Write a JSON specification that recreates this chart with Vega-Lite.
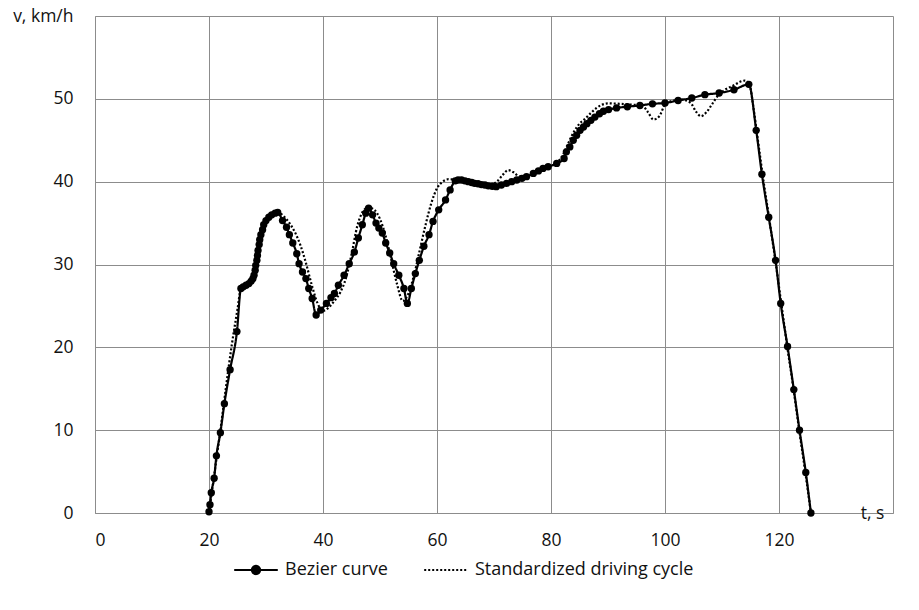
{
  "$schema": "https://vega.github.io/schema/vega-lite/v6.json",
  "width": 798,
  "height": 497,
  "autosize": {"type": "none"},
  "padding": {"left": 95, "top": 16, "right": 26, "bottom": 97},
  "background": "white",
  "config": {
    "font": "Open Sans",
    "view": {"stroke": null},
    "axis": {
      "grid": true,
      "gridColor": "#8c8c8c",
      "gridWidth": 1,
      "domainColor": "#8c8c8c",
      "domainWidth": 1,
      "ticks": false,
      "labelFont": "Open Sans",
      "labelFontSize": 17.5,
      "labelColor": "#111111",
      "titleFont": "Open Sans",
      "titleFontSize": 17.5,
      "titleFontWeight": "normal",
      "titleColor": "#111111"
    }
  },
  "data": {
    "values": [
      {"s": "Bezier curve", "t": 20.0, "v": 0.15},
      {"s": "Bezier curve", "t": 20.17, "v": 1.0},
      {"s": "Bezier curve", "t": 20.4, "v": 2.45},
      {"s": "Bezier curve", "t": 20.9, "v": 4.2},
      {"s": "Bezier curve", "t": 21.3, "v": 6.9},
      {"s": "Bezier curve", "t": 22.0, "v": 9.7},
      {"s": "Bezier curve", "t": 22.7, "v": 13.2},
      {"s": "Bezier curve", "t": 23.7, "v": 17.3},
      {"s": "Bezier curve", "t": 24.9, "v": 21.9},
      {"s": "Bezier curve", "t": 25.6, "v": 27.1},
      {"s": "Bezier curve", "t": 26.0, "v": 27.3},
      {"s": "Bezier curve", "t": 26.5, "v": 27.5},
      {"s": "Bezier curve", "t": 27.0, "v": 27.7},
      {"s": "Bezier curve", "t": 27.4, "v": 28.0},
      {"s": "Bezier curve", "t": 27.7, "v": 28.3},
      {"s": "Bezier curve", "t": 27.9, "v": 28.7},
      {"s": "Bezier curve", "t": 28.1, "v": 29.3},
      {"s": "Bezier curve", "t": 28.2, "v": 29.9},
      {"s": "Bezier curve", "t": 28.4, "v": 30.5},
      {"s": "Bezier curve", "t": 28.5, "v": 31.1},
      {"s": "Bezier curve", "t": 28.6, "v": 31.7},
      {"s": "Bezier curve", "t": 28.8, "v": 32.4},
      {"s": "Bezier curve", "t": 28.9, "v": 33.0},
      {"s": "Bezier curve", "t": 29.1, "v": 33.6},
      {"s": "Bezier curve", "t": 29.4, "v": 34.2},
      {"s": "Bezier curve", "t": 29.6, "v": 34.8},
      {"s": "Bezier curve", "t": 30.0, "v": 35.3},
      {"s": "Bezier curve", "t": 30.5, "v": 35.7},
      {"s": "Bezier curve", "t": 31.0, "v": 36.0},
      {"s": "Bezier curve", "t": 31.6, "v": 36.2},
      {"s": "Bezier curve", "t": 32.05, "v": 36.3},
      {"s": "Bezier curve", "t": 32.9, "v": 35.3},
      {"s": "Bezier curve", "t": 33.6, "v": 34.5},
      {"s": "Bezier curve", "t": 34.1, "v": 33.6},
      {"s": "Bezier curve", "t": 34.7, "v": 32.6},
      {"s": "Bezier curve", "t": 35.4, "v": 31.3},
      {"s": "Bezier curve", "t": 35.8, "v": 30.1},
      {"s": "Bezier curve", "t": 36.4, "v": 29.1},
      {"s": "Bezier curve", "t": 37.0, "v": 28.3},
      {"s": "Bezier curve", "t": 37.5, "v": 27.1},
      {"s": "Bezier curve", "t": 38.1, "v": 25.9},
      {"s": "Bezier curve", "t": 38.8, "v": 23.9},
      {"s": "Bezier curve", "t": 39.6, "v": 24.5},
      {"s": "Bezier curve", "t": 40.6, "v": 25.3},
      {"s": "Bezier curve", "t": 41.4, "v": 26.0},
      {"s": "Bezier curve", "t": 42.0, "v": 26.5},
      {"s": "Bezier curve", "t": 42.7, "v": 27.5},
      {"s": "Bezier curve", "t": 43.7, "v": 28.7},
      {"s": "Bezier curve", "t": 44.6, "v": 30.1},
      {"s": "Bezier curve", "t": 45.5, "v": 31.5},
      {"s": "Bezier curve", "t": 46.2, "v": 33.2},
      {"s": "Bezier curve", "t": 46.9, "v": 34.8},
      {"s": "Bezier curve", "t": 47.5, "v": 36.2},
      {"s": "Bezier curve", "t": 48.0, "v": 36.8},
      {"s": "Bezier curve", "t": 48.7, "v": 36.0},
      {"s": "Bezier curve", "t": 49.3, "v": 35.0},
      {"s": "Bezier curve", "t": 49.8, "v": 34.4},
      {"s": "Bezier curve", "t": 50.4, "v": 33.8},
      {"s": "Bezier curve", "t": 51.0, "v": 32.6},
      {"s": "Bezier curve", "t": 51.7, "v": 31.4},
      {"s": "Bezier curve", "t": 52.4, "v": 30.1},
      {"s": "Bezier curve", "t": 53.3, "v": 28.7},
      {"s": "Bezier curve", "t": 54.2, "v": 27.1},
      {"s": "Bezier curve", "t": 54.8, "v": 25.3},
      {"s": "Bezier curve", "t": 55.5, "v": 27.1},
      {"s": "Bezier curve", "t": 56.2, "v": 28.9},
      {"s": "Bezier curve", "t": 56.9, "v": 30.5},
      {"s": "Bezier curve", "t": 57.7, "v": 32.2},
      {"s": "Bezier curve", "t": 58.6, "v": 33.6},
      {"s": "Bezier curve", "t": 59.3, "v": 35.2},
      {"s": "Bezier curve", "t": 60.3, "v": 36.6},
      {"s": "Bezier curve", "t": 61.5, "v": 37.8},
      {"s": "Bezier curve", "t": 62.3, "v": 39.0},
      {"s": "Bezier curve", "t": 63.2, "v": 40.1},
      {"s": "Bezier curve", "t": 63.7, "v": 40.2},
      {"s": "Bezier curve", "t": 64.3, "v": 40.2},
      {"s": "Bezier curve", "t": 64.9, "v": 40.1},
      {"s": "Bezier curve", "t": 65.5, "v": 40.0},
      {"s": "Bezier curve", "t": 66.1, "v": 39.9},
      {"s": "Bezier curve", "t": 66.6, "v": 39.8},
      {"s": "Bezier curve", "t": 67.2, "v": 39.75},
      {"s": "Bezier curve", "t": 67.8, "v": 39.65},
      {"s": "Bezier curve", "t": 68.4, "v": 39.6},
      {"s": "Bezier curve", "t": 69.0, "v": 39.5},
      {"s": "Bezier curve", "t": 69.7, "v": 39.45},
      {"s": "Bezier curve", "t": 70.4, "v": 39.4},
      {"s": "Bezier curve", "t": 71.3, "v": 39.6},
      {"s": "Bezier curve", "t": 72.2, "v": 39.8},
      {"s": "Bezier curve", "t": 73.1, "v": 40.0},
      {"s": "Bezier curve", "t": 74.0, "v": 40.2},
      {"s": "Bezier curve", "t": 74.9, "v": 40.4},
      {"s": "Bezier curve", "t": 75.7, "v": 40.6},
      {"s": "Bezier curve", "t": 76.9, "v": 41.0},
      {"s": "Bezier curve", "t": 77.8, "v": 41.3},
      {"s": "Bezier curve", "t": 78.6, "v": 41.6},
      {"s": "Bezier curve", "t": 79.5, "v": 41.8},
      {"s": "Bezier curve", "t": 81.0, "v": 42.2},
      {"s": "Bezier curve", "t": 82.3, "v": 42.8},
      {"s": "Bezier curve", "t": 82.7, "v": 43.6},
      {"s": "Bezier curve", "t": 83.3, "v": 44.2},
      {"s": "Bezier curve", "t": 83.9, "v": 45.0},
      {"s": "Bezier curve", "t": 84.5, "v": 45.6},
      {"s": "Bezier curve", "t": 85.1, "v": 46.2},
      {"s": "Bezier curve", "t": 85.7, "v": 46.6},
      {"s": "Bezier curve", "t": 86.3, "v": 47.0},
      {"s": "Bezier curve", "t": 87.0, "v": 47.4},
      {"s": "Bezier curve", "t": 87.7, "v": 47.8},
      {"s": "Bezier curve", "t": 88.5, "v": 48.2},
      {"s": "Bezier curve", "t": 89.2, "v": 48.5},
      {"s": "Bezier curve", "t": 90.1, "v": 48.7},
      {"s": "Bezier curve", "t": 91.5, "v": 48.9},
      {"s": "Bezier curve", "t": 93.4, "v": 49.05},
      {"s": "Bezier curve", "t": 95.6, "v": 49.2},
      {"s": "Bezier curve", "t": 97.8, "v": 49.4},
      {"s": "Bezier curve", "t": 100.0, "v": 49.5},
      {"s": "Bezier curve", "t": 102.3, "v": 49.8},
      {"s": "Bezier curve", "t": 104.7, "v": 50.1},
      {"s": "Bezier curve", "t": 107.0, "v": 50.5},
      {"s": "Bezier curve", "t": 109.5, "v": 50.7},
      {"s": "Bezier curve", "t": 112.1, "v": 51.1},
      {"s": "Bezier curve", "t": 114.7, "v": 51.75},
      {"s": "Bezier curve", "t": 116.0, "v": 46.2},
      {"s": "Bezier curve", "t": 117.0, "v": 40.9},
      {"s": "Bezier curve", "t": 118.2, "v": 35.7},
      {"s": "Bezier curve", "t": 119.4, "v": 30.5},
      {"s": "Bezier curve", "t": 120.3, "v": 25.3},
      {"s": "Bezier curve", "t": 121.5, "v": 20.1},
      {"s": "Bezier curve", "t": 122.6, "v": 14.9},
      {"s": "Bezier curve", "t": 123.6, "v": 10.0},
      {"s": "Bezier curve", "t": 124.7, "v": 4.9},
      {"s": "Bezier curve", "t": 125.6, "v": 0.0},

      {"s": "Standardized driving cycle", "t": 20.0, "v": 0.0},
      {"s": "Standardized driving cycle", "t": 21.0, "v": 5.0},
      {"s": "Standardized driving cycle", "t": 22.0, "v": 10.0},
      {"s": "Standardized driving cycle", "t": 23.0, "v": 15.3},
      {"s": "Standardized driving cycle", "t": 24.0, "v": 20.3},
      {"s": "Standardized driving cycle", "t": 25.0, "v": 24.6},
      {"s": "Standardized driving cycle", "t": 25.6, "v": 27.1},
      {"s": "Standardized driving cycle", "t": 26.5, "v": 27.5},
      {"s": "Standardized driving cycle", "t": 27.3, "v": 28.0},
      {"s": "Standardized driving cycle", "t": 28.0, "v": 29.3},
      {"s": "Standardized driving cycle", "t": 29.0, "v": 33.2},
      {"s": "Standardized driving cycle", "t": 30.0, "v": 35.3},
      {"s": "Standardized driving cycle", "t": 31.0, "v": 36.0},
      {"s": "Standardized driving cycle", "t": 32.0, "v": 36.3},
      {"s": "Standardized driving cycle", "t": 33.0, "v": 35.9},
      {"s": "Standardized driving cycle", "t": 34.0, "v": 35.1},
      {"s": "Standardized driving cycle", "t": 35.0, "v": 34.0},
      {"s": "Standardized driving cycle", "t": 36.0, "v": 32.4},
      {"s": "Standardized driving cycle", "t": 37.0, "v": 30.2},
      {"s": "Standardized driving cycle", "t": 38.0, "v": 27.6},
      {"s": "Standardized driving cycle", "t": 39.0, "v": 25.4},
      {"s": "Standardized driving cycle", "t": 40.0, "v": 24.4},
      {"s": "Standardized driving cycle", "t": 41.0, "v": 24.8},
      {"s": "Standardized driving cycle", "t": 42.0, "v": 25.6},
      {"s": "Standardized driving cycle", "t": 43.0, "v": 26.6},
      {"s": "Standardized driving cycle", "t": 44.0, "v": 28.3},
      {"s": "Standardized driving cycle", "t": 45.0, "v": 31.2},
      {"s": "Standardized driving cycle", "t": 46.0, "v": 34.6},
      {"s": "Standardized driving cycle", "t": 47.0, "v": 36.4},
      {"s": "Standardized driving cycle", "t": 48.0, "v": 36.9},
      {"s": "Standardized driving cycle", "t": 49.0, "v": 36.6},
      {"s": "Standardized driving cycle", "t": 50.0, "v": 35.5},
      {"s": "Standardized driving cycle", "t": 51.0, "v": 33.4},
      {"s": "Standardized driving cycle", "t": 52.0, "v": 30.5},
      {"s": "Standardized driving cycle", "t": 53.0, "v": 27.6},
      {"s": "Standardized driving cycle", "t": 54.0, "v": 25.6},
      {"s": "Standardized driving cycle", "t": 55.0, "v": 26.5},
      {"s": "Standardized driving cycle", "t": 56.0, "v": 28.8},
      {"s": "Standardized driving cycle", "t": 57.0, "v": 31.8},
      {"s": "Standardized driving cycle", "t": 58.0, "v": 34.8},
      {"s": "Standardized driving cycle", "t": 59.0, "v": 37.4},
      {"s": "Standardized driving cycle", "t": 60.0, "v": 39.2},
      {"s": "Standardized driving cycle", "t": 61.0, "v": 40.0},
      {"s": "Standardized driving cycle", "t": 62.0, "v": 40.3},
      {"s": "Standardized driving cycle", "t": 64.0, "v": 40.2},
      {"s": "Standardized driving cycle", "t": 66.0, "v": 40.0},
      {"s": "Standardized driving cycle", "t": 68.0, "v": 39.8},
      {"s": "Standardized driving cycle", "t": 69.5, "v": 39.7},
      {"s": "Standardized driving cycle", "t": 70.5, "v": 40.0},
      {"s": "Standardized driving cycle", "t": 71.5, "v": 40.8},
      {"s": "Standardized driving cycle", "t": 72.5, "v": 41.4},
      {"s": "Standardized driving cycle", "t": 73.5, "v": 41.1},
      {"s": "Standardized driving cycle", "t": 74.5, "v": 40.6},
      {"s": "Standardized driving cycle", "t": 75.5, "v": 40.6},
      {"s": "Standardized driving cycle", "t": 77.0, "v": 41.0},
      {"s": "Standardized driving cycle", "t": 78.5, "v": 41.5},
      {"s": "Standardized driving cycle", "t": 80.0, "v": 41.9},
      {"s": "Standardized driving cycle", "t": 81.0, "v": 42.3},
      {"s": "Standardized driving cycle", "t": 82.0, "v": 43.1},
      {"s": "Standardized driving cycle", "t": 83.0, "v": 44.6},
      {"s": "Standardized driving cycle", "t": 84.0, "v": 46.0},
      {"s": "Standardized driving cycle", "t": 85.0, "v": 47.0},
      {"s": "Standardized driving cycle", "t": 86.0, "v": 47.6},
      {"s": "Standardized driving cycle", "t": 87.0, "v": 48.3},
      {"s": "Standardized driving cycle", "t": 88.0, "v": 48.9},
      {"s": "Standardized driving cycle", "t": 89.0, "v": 49.3},
      {"s": "Standardized driving cycle", "t": 90.0, "v": 49.45},
      {"s": "Standardized driving cycle", "t": 92.0, "v": 49.4},
      {"s": "Standardized driving cycle", "t": 94.0, "v": 49.3},
      {"s": "Standardized driving cycle", "t": 96.0, "v": 49.2},
      {"s": "Standardized driving cycle", "t": 97.0, "v": 48.4},
      {"s": "Standardized driving cycle", "t": 98.0, "v": 47.5},
      {"s": "Standardized driving cycle", "t": 99.0, "v": 47.9},
      {"s": "Standardized driving cycle", "t": 100.0, "v": 49.3},
      {"s": "Standardized driving cycle", "t": 101.0, "v": 49.7},
      {"s": "Standardized driving cycle", "t": 103.0, "v": 49.9},
      {"s": "Standardized driving cycle", "t": 104.5, "v": 49.5},
      {"s": "Standardized driving cycle", "t": 105.5, "v": 48.4},
      {"s": "Standardized driving cycle", "t": 106.3, "v": 47.9},
      {"s": "Standardized driving cycle", "t": 107.3, "v": 48.4},
      {"s": "Standardized driving cycle", "t": 108.3, "v": 49.4},
      {"s": "Standardized driving cycle", "t": 109.3, "v": 50.4},
      {"s": "Standardized driving cycle", "t": 110.5, "v": 51.1},
      {"s": "Standardized driving cycle", "t": 112.0, "v": 51.6},
      {"s": "Standardized driving cycle", "t": 113.0, "v": 52.0},
      {"s": "Standardized driving cycle", "t": 114.0, "v": 52.2},
      {"s": "Standardized driving cycle", "t": 114.8, "v": 51.8},
      {"s": "Standardized driving cycle", "t": 115.5, "v": 49.0},
      {"s": "Standardized driving cycle", "t": 116.3, "v": 45.0},
      {"s": "Standardized driving cycle", "t": 117.3, "v": 40.0},
      {"s": "Standardized driving cycle", "t": 118.4, "v": 35.0},
      {"s": "Standardized driving cycle", "t": 119.4, "v": 30.3},
      {"s": "Standardized driving cycle", "t": 120.4, "v": 25.3},
      {"s": "Standardized driving cycle", "t": 121.4, "v": 20.3},
      {"s": "Standardized driving cycle", "t": 122.5, "v": 15.2},
      {"s": "Standardized driving cycle", "t": 123.5, "v": 10.2},
      {"s": "Standardized driving cycle", "t": 124.6, "v": 5.0},
      {"s": "Standardized driving cycle", "t": 125.6, "v": 0.0}
    ]
  },
  "encoding": {
    "x": {
      "field": "t",
      "type": "quantitative",
      "scale": {"domain": [0, 140], "nice": false, "zero": false},
      "axis": {
        "values": [0, 20, 40, 60, 80, 100, 120, 140],
        "labelExpr": "datum.value == 140 ? '' : datum.label",
        "labelPadding": 18,
        "title": "t, s",
        "titleX": 777,
        "titleY": 0,
        "titleAlign": "center",
        "titleBaseline": "middle"
      }
    },
    "y": {
      "field": "v",
      "type": "quantitative",
      "scale": {"domain": [0, 60], "nice": false},
      "axis": {
        "values": [0, 10, 20, 30, 40, 50, 60],
        "labelExpr": "datum.value == 60 ? 'v, km/h' : datum.label",
        "labelPadding": 22,
        "title": null
      }
    }
  },
  "layer": [
    {
      "mark": {"type": "line", "color": "black", "strokeWidth": 2.2, "interpolate": "monotone"},
      "encoding": {
        "detail": {"field": "s"},
        "order": {"field": "t", "type": "quantitative"},
        "strokeDash": {
          "field": "s",
          "type": "nominal",
          "scale": {"domain": ["Bezier curve", "Standardized driving cycle"], "range": [[1, 0], [2, 2]]},
          "legend": {
            "title": null,
            "orient": "none",
            "direction": "horizontal",
            "legendX": 138,
            "legendY": 531,
            "padding": 0,
            "symbolType": "stroke",
            "symbolSize": 1900,
            "symbolStrokeWidth": 2,
            "symbolStrokeColor": "black",
            "symbolFillColor": "black",
            "labelFont": "Open Sans",
            "labelFontSize": 18,
            "labelColor": "#111111",
            "labelLimit": 0,
            "labelOffset": 6,
            "columnPadding": 32,
            "encode": {
              "symbols": {
                "update": {
                  "shape": {"signal": "datum.label == 'Bezier curve' ? 'M-1,0L1,0M0.19,0A0.19,0.19,0,1,1,-0.19,0A0.19,0.19,0,1,1,0.19,0Z' : 'stroke'"},
                  "fill": {"value": "black"},
                  "stroke": {"value": "black"},
                  "strokeWidth": {"value": 2},
                  "strokeDash": {"signal": "datum.label == 'Bezier curve' ? [1, 0] : [2, 2]"},
                  "opacity": {"value": 1}
                }
              }
            }
          }
        }
      }
    },
    {
      "transform": [{"filter": "datum.s == 'Bezier curve'"}],
      "mark": {"type": "point", "filled": true, "color": "black", "size": 54, "opacity": 1}
    }
  ]
}
